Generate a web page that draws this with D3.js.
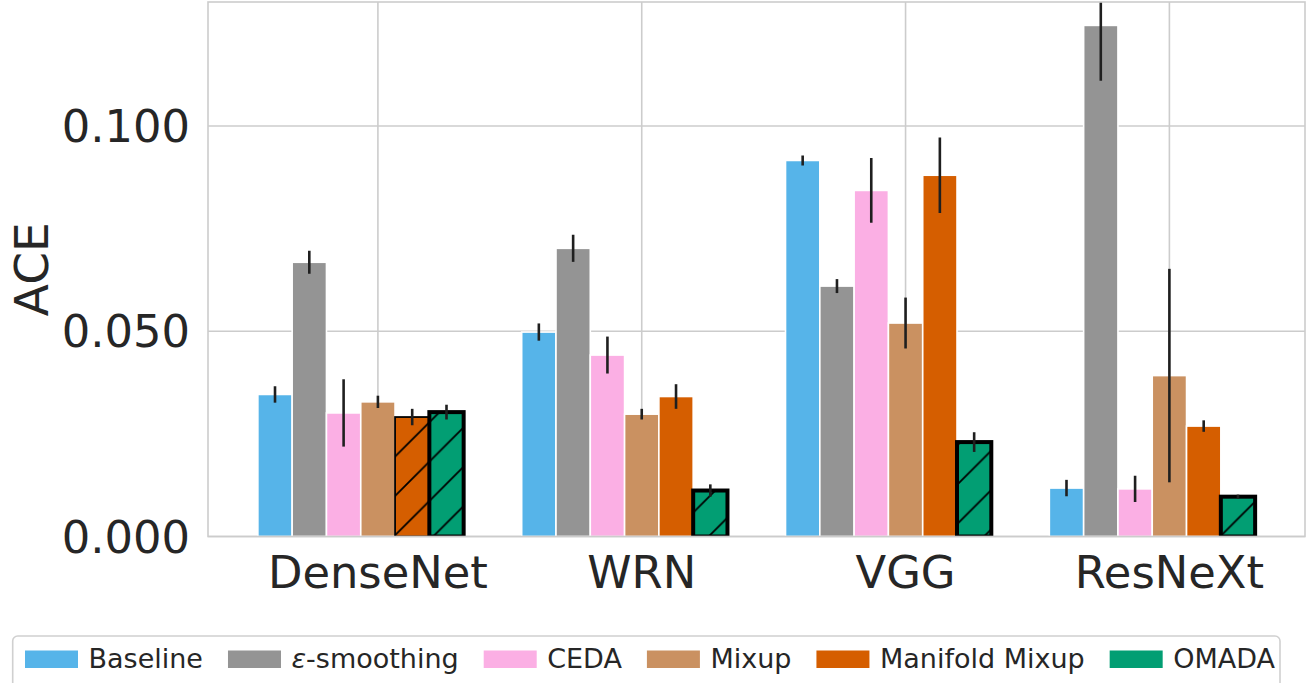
<!DOCTYPE html>
<html>
<head>
<meta charset="utf-8">
<script src="https://cdn.jsdelivr.net/npm/d3@7"></script>
<style>
  html, body { margin: 0; padding: 0; background: #fff; }
  svg { display: block; font-family: "DejaVu Sans", sans-serif; }
</style>
</head>
<body>
<svg id="chart" width="1307" height="683"></svg>
<script>
// ---------------- data ----------------
const categories = ["DenseNet", "WRN", "VGG", "ResNeXt"];
const methods = ["Baseline", "ε-smoothing", "CEDA", "Mixup", "Manifold Mixup", "OMADA"];

const baselineVals = [0.0346, 0.0498, 0.0916, 0.0118];
const baselineErr  = [0.0020, 0.0021, 0.0012, 0.0020];
const epsVals      = [0.0668, 0.0702, 0.0610, 0.1245];
const epsErr       = [0.0028, 0.0033, 0.0017, 0.0135];
const cedaVals     = [0.0301, 0.0442, 0.0843, 0.0116];
const cedaErr      = [0.0082, 0.0045, 0.0079, 0.0032];
const mixupVals    = [0.0328, 0.0298, 0.0520, 0.0392];
const mixupErr     = [0.0015, 0.0013, 0.0062, 0.0260];
const manifoldVals = [0.0291, 0.0341, 0.0880, 0.0269];
const manifoldErr  = [0.0020, 0.0030, 0.0092, 0.0014];
const omadaVals    = [0.0303, 0.0112, 0.0230, 0.0097];
const omadaErr     = [0.0018, 0.0015, 0.0024, 0.0005];

const yTicks = [0.0, 0.05, 0.1];
const yTickLabels = ["0.000", "0.050", "0.100"];
const yLabel = "ACE";

const seriesVals = [baselineVals, epsVals, cedaVals, mixupVals, manifoldVals, omadaVals];
const seriesErr  = [baselineErr, epsErr, cedaErr, mixupErr, manifoldErr, omadaErr];

// ---------------- style ----------------
const colors = ["#56b4e9", "#949494", "#fbafe4", "#ca9161", "#d55e00", "#029e73"];
const barWidth = 0.13;            // in category units
const offsets = [-3, -2, -1, 0, 1, 2];
// hatch: best per group (DenseNet manifold) and proposed method everywhere
const hatchFlags = [
  [false, false, false, false, true, true],
  [false, false, false, false, false, true],
  [false, false, false, false, false, true],
  [false, false, false, false, false, true]
];
const textColor = "#262626";
const gridColor = "#cccccc";

const svg = d3.select("#chart");
const W = 1307, H = 683;
const plot = { left: 208, right: 1305, top: 2, bottom: 536.5 };

// x scale with matplotlib-like 5% margins
const minX = 0 + offsets[0] * barWidth - barWidth / 2;
const maxX = (categories.length - 1) + offsets[offsets.length - 1] * barWidth + barWidth / 2;
const marg = (maxX - minX) * 0.05;
const x = d3.scaleLinear().domain([minX - marg, maxX + marg]).range([plot.left, plot.right]);
const y = d3.scaleLinear().domain([0, 0.1302]).range([plot.bottom, plot.top]);

// hatch pattern
const defs = svg.append("defs");
const s = 39.35;
const pat = defs.append("pattern")
  .attr("id", "hatch")
  .attr("patternUnits", "userSpaceOnUse")
  .attr("width", s).attr("height", s)
  .attr("patternTransform", `translate(25.3,0)`);
pat.append("path")
  .attr("d", `M0,${s} L${s},0 M-2,2 L2,-2 M${s-2},${s+2} L${s+2},${s-2}`)
  .attr("stroke", "#000").attr("stroke-width", 1.8).attr("fill", "none");

defs.append("clipPath").attr("id", "plotclip")
  .append("rect").attr("x", plot.left).attr("y", plot.top)
  .attr("width", plot.right - plot.left).attr("height", plot.bottom - plot.top);

// grid
const g = svg.append("g");
g.selectAll("line.hgrid").data(yTicks).enter().append("line")
  .attr("x1", plot.left).attr("x2", plot.right)
  .attr("y1", d => y(d)).attr("y2", d => y(d))
  .attr("stroke", gridColor).attr("stroke-width", 1.6);
g.selectAll("line.vgrid").data(categories).enter().append("line")
  .attr("x1", (d, i) => x(i)).attr("x2", (d, i) => x(i))
  .attr("y1", plot.top).attr("y2", plot.bottom)
  .attr("stroke", gridColor).attr("stroke-width", 1.6);

// bars
const bars = [];
categories.forEach((c, i) => {
  methods.forEach((m, j) => {
    bars.push({ i, j, v: seriesVals[j][i], e: seriesErr[j][i], h: hatchFlags[i][j] });
  });
});

const bg = svg.append("g").attr("clip-path", "url(#plotclip)");
bars.forEach(b => {
  const cx = b.i + offsets[b.j] * barWidth;
  const x0 = x(cx - barWidth / 2), x1 = x(cx + barWidth / 2);
  const y0 = y(b.v), y1 = y(0);
  bg.append("rect")
    .attr("x", x0).attr("y", y0).attr("width", x1 - x0).attr("height", y1 - y0)
    .attr("fill", colors[b.j])
    .attr("stroke", b.h ? "none" : "#ffffff").attr("stroke-width", b.h ? 0 : 1.6);
  if (b.h) {
    bg.append("rect")
      .attr("x", x0).attr("y", y0).attr("width", x1 - x0).attr("height", y1 - y0)
      .attr("fill", "url(#hatch)");
    bg.append("rect")
      .attr("x", x0).attr("y", y0).attr("width", x1 - x0).attr("height", y1 - y0)
      .attr("fill", "none").attr("stroke", "#000")
      .attr("stroke-width", b.j === 5 ? 4 : 1.8);
  }
});
// error bars
bars.forEach(b => {
  const cx = b.i + offsets[b.j] * barWidth;
  bg.append("line")
    .attr("x1", x(cx)).attr("x2", x(cx))
    .attr("y1", y(b.v - b.e)).attr("y2", y(b.v + b.e))
    .attr("stroke", "#1f1f1f").attr("stroke-width", 2.6);
});

// spines
svg.append("rect")
  .attr("x", plot.left).attr("y", plot.top)
  .attr("width", plot.right - plot.left).attr("height", plot.bottom - plot.top)
  .attr("fill", "none").attr("stroke", gridColor).attr("stroke-width", 1.6);

// y tick labels
svg.selectAll("text.ytick").data(yTicks).enter().append("text")
  .attr("x", 190).attr("y", d => y(d))
  .attr("dy", "0.36em")
  .attr("text-anchor", "end")
  .attr("font-size", 44.8).attr("fill", textColor)
  .text((d, i) => yTickLabels[i]);

// x tick labels
svg.selectAll("text.xtick").data(categories).enter().append("text")
  .attr("x", (d, i) => x(i)).attr("y", 588)
  .attr("text-anchor", "middle")
  .attr("font-size", 44.8).attr("fill", textColor)
  .text(d => d);

// y label
svg.append("text")
  .attr("transform", `translate(48, ${(plot.top + plot.bottom) / 2}) rotate(-90)`)
  .attr("text-anchor", "middle")
  .attr("font-size", 47).attr("fill", textColor)
  .text(yLabel);

// legend
const lg = svg.append("g");
lg.append("rect")
  .attr("x", 12.7).attr("y", 636).attr("width", 1280 - 12.7).attr("height", 70)
  .attr("rx", 5).attr("ry", 5)
  .attr("fill", "#fff").attr("fill-opacity", 0.8)
  .attr("stroke", "#d0d0d0").attr("stroke-width", 1.6);
let lx = 25;
methods.forEach((m, j) => {
  lg.append("rect")
    .attr("x", lx).attr("y", 650.5).attr("width", 53).attr("height", 17.5)
    .attr("fill", colors[j]);
  const t = lg.append("text")
    .attr("x", lx + 53 + 10.5).attr("y", 667.8)
    .attr("font-size", 27).attr("fill", textColor);
  if (m.startsWith("ε")) {
    t.append("tspan").attr("font-style", "italic").text("ε");
    t.append("tspan").text(m.slice(1));
  } else {
    t.text(m);
  }
  const tw = t.node().getComputedTextLength();
  lx = lx + 53 + 10.5 + tw + 25;
});
</script>
</body>
</html>
